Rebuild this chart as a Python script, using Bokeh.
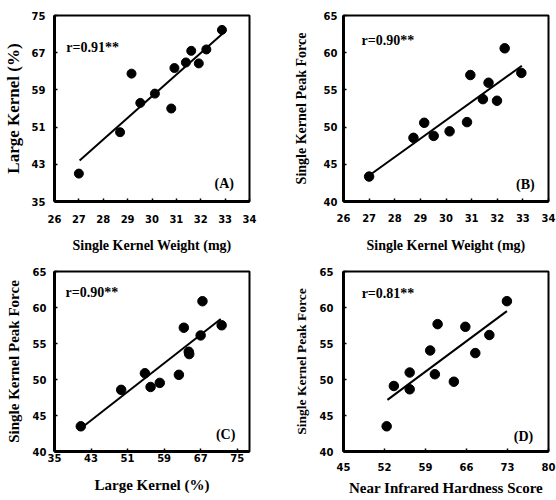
from bokeh.plotting import figure
from bokeh.models import Range1d, Label, FixedTicker
from bokeh.layouts import gridplot
from bokeh.embed import file_html
from bokeh.resources import INLINE

# ---- data ----
# (A) Single kernel weight vs large kernel
a_x = [27.0, 28.69, 29.16, 29.52, 30.12, 30.79, 30.92, 31.39, 31.61, 31.92, 32.23, 32.87]
a_y = [41.0, 49.9, 62.5, 56.2, 58.2, 55.0, 63.7, 64.9, 67.4, 64.7, 67.7, 71.9]
a_fit_x = [27.03, 32.89]
a_fit_y = [43.8, 71.1]

# (B) Single kernel weight vs peak force
b_x = [27.0, 28.73, 29.15, 29.52, 30.14, 30.82, 30.95, 31.44, 31.66, 31.99, 32.29, 32.94]
b_y = [43.35, 48.56, 50.58, 48.82, 49.43, 50.67, 57.0, 53.76, 55.96, 53.54, 60.59, 57.28]
b_fit_x = [27.0, 32.96]
b_fit_y = [43.5, 58.25]

# (C) Large kernel vs peak force
c_x = [40.76, 49.6, 54.8, 56.04, 58.05, 62.24, 63.32, 64.4, 64.5, 67.0, 67.4, 71.6]
c_y = [43.5, 48.56, 50.87, 48.96, 49.53, 50.65, 57.19, 53.85, 53.53, 56.12, 60.87, 57.53]
c_fit_x = [40.94, 71.4]
c_fit_y = [43.3, 58.4]

# (D) NIR hardness vs peak force
d_x = [52.37, 53.6, 56.3, 56.3, 59.8, 60.6, 61.07, 63.84, 65.8, 67.5, 69.9, 72.9]
d_y = [43.5, 49.1, 50.97, 48.64, 54.03, 50.73, 57.69, 49.69, 57.32, 53.67, 56.18, 60.88]
d_fit_x = [52.5, 72.9]
d_fit_y = [47.17, 59.5]

a_xticks = [26, 27, 28, 29, 30, 31, 32, 33, 34]
a_yticks = [35, 43, 51, 59, 67, 75]
b_xticks = [26, 27, 28, 29, 30, 31, 32, 33, 34]
b_yticks = [40, 45, 50, 55, 60, 65]
c_xticks = [35, 43, 51, 59, 67, 75]
c_yticks = [40, 45, 50, 55, 60, 65]
d_xticks = [45, 52, 59, 66, 73, 80]
d_yticks = [40, 45, 50, 55, 60, 65]

TICKFONT = "DejaVu Sans"
SERIF = "Liberation Serif"


def panel(w, h, bl, br, bt, bb, xr, yr, xt, yt, xlab, ylab, xls, yls,
          xstand, xlstand, ystand, ylstand, xs, ys, fx, fy, r_text, r_pos,
          tag, tag_pos, msize):
    p = figure(width=w, height=h, output_backend="svg", toolbar_location=None,
               x_range=Range1d(*xr), y_range=Range1d(*yr),
               min_border_left=bl, min_border_right=br,
               min_border_top=bt, min_border_bottom=bb)
    p.grid.visible = False
    p.background_fill_color = "white"
    p.border_fill_color = "white"
    p.outline_line_color = "black"
    p.outline_line_width = 2
    p.outline_line_alpha = 1
    p.xaxis.ticker = FixedTicker(ticks=xt)
    p.yaxis.ticker = FixedTicker(ticks=yt)
    for ax in (p.xaxis, p.yaxis):
        ax.axis_line_width = 3
        ax.axis_line_color = "black"
        ax.major_tick_in = 3
        ax.major_tick_out = 0
        ax.major_tick_line_width = 1.5
        ax.major_tick_line_color = "black"
        ax.minor_tick_line_color = None
        ax.major_label_text_font = TICKFONT
        ax.major_label_text_font_style = "bold"
        ax.major_label_text_font_size = "10px"
        ax.major_label_text_color = "black"
        ax.axis_label_text_font = SERIF
        ax.axis_label_text_font_style = "bold"
        ax.axis_label_text_color = "black"
    p.xaxis.axis_label = xlab
    p.yaxis.axis_label = ylab
    p.xaxis.axis_label_text_font_size = xls
    p.yaxis.axis_label_text_font_size = yls
    p.xaxis.major_label_standoff = xstand
    p.xaxis.axis_label_standoff = xlstand
    p.yaxis.major_label_standoff = ystand
    p.yaxis.axis_label_standoff = ylstand

    p.line(fx, fy, line_color="black", line_width=2)
    p.scatter(xs, ys, size=msize, fill_color="black", line_color="black")

    p.add_layout(Label(x=r_pos[0], y=r_pos[1], text=r_text, text_font=SERIF,
                       text_font_style="bold", text_font_size="14px",
                       text_color="black",
                       text_align="left", text_baseline="alphabetic"))
    p.add_layout(Label(x=tag_pos[0], y=tag_pos[1], text=tag, text_font=SERIF,
                       text_font_style="bold", text_font_size="14px",
                       text_color="black",
                       text_align="right", text_baseline="alphabetic"))
    return p


pa = panel(280, 258, 51, 29, 15, 57, (26, 34), (35, 75), a_xticks, a_yticks,
           "Single Kernel Weight (mg)", "Large Kernel (%)", "14px", "17px",
           13, 12, 9, 6, a_x, a_y, a_fit_x, a_fit_y,
           "r=0.91**", (26.48, 68.2), "(A)", (33.36, 38.9), 9)

pb = panel(276, 258, 63, 8, 15, 56, (26, 34), (40, 65), b_xticks, b_yticks,
           "Single Kernel Weight (mg)", "Single Kernel Peak Force", "14px", "14px",
           12, 13, 6, 12, b_x, b_y, b_fit_x, b_fit_y,
           "r=0.90**", (26.7, 61.6), "(B)", (33.46, 42.25), 9.5)

pc = panel(280, 242, 51, 31, 13, 46, (35, 77.7), (40, 65), c_xticks, c_yticks,
           "Large Kernel (%)", "Single Kernel Peak Force", "15px", "15px",
           2, 12, 8, 8, c_x, c_y, c_fit_x, c_fit_y,
           "r=0.90**", (37.4, 62.06), "(C)", (74.6, 42.4), 9.5)

pd = panel(276, 242, 63, 8, 13, 49, (45, 80), (40, 65), d_xticks, d_yticks,
           "Near Infrared Hardness Score", "Single Kernel Peak Force", "15px", "13.5px",
           11, 6, 10, 8, d_x, d_y, d_fit_x, d_fit_y,
           "r=0.81**", (48.1, 62.0), "(D)", (77.4, 42.05), 9.5)

grid = gridplot([[pa, pb], [pc, pd]], toolbar_location=None)

open("out.html", "w").write(file_html(grid, INLINE))
